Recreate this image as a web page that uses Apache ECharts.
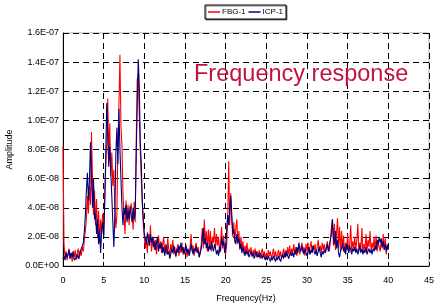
<!DOCTYPE html>
<html>
<head>
    <meta charset="UTF-8">
    <title>Frequency response</title>
    <script src="https://cdn.jsdelivr.net/npm/echarts@6/dist/echarts.min.js"></script>
    <style>
        body { margin: 0; background: #fff; }
        #main { width: 444px; height: 304px; }
    </style>
</head>
<body>
    <div id="main"></div>
    <script>
        // frequency step 0.125 Hz, 0..40 Hz ; amplitudes in units of 1E-08
        var step = 0.125;
        var seriesNames = ['FBG-1', 'ICP-1'];
        var xTicks = [0, 5, 10, 15, 20, 25, 30, 35, 40, 45];
        var yTickLabels = ['0.0E+00', '2.0E-08', '4.0E-08', '6.0E-08', '8.0E-08',
                           '1.0E-07', '1.2E-07', '1.4E-07', '1.6E-07'];

        var fbg = [
            8.2, 1.5, 0.6, 1.0, 0.4, 0.8, 1.2, 0.5,
            0.9, 0.3, 1.0, 0.6, 1.1, 0.4, 0.9, 1.2,
            0.5, 1.1, 0.7, 1.3, 1.0, 1.8, 2.4, 3.2,
            4.8, 3.6, 5.5, 4.2, 9.2, 6.0, 3.5, 5.2,
            2.8, 4.6, 2.0, 3.8, 1.6, 3.2, 2.2, 3.6,
            2.1, 4.5, 6.8, 8.2, 11.5, 7.5, 9.8, 6.2,
            7.8, 5.5, 6.6, 4.0, 2.6, 3.5, 8.5, 11.0,
            14.5, 9.6, 8.2, 5.0, 3.5, 2.2, 4.5, 3.2,
            4.2, 2.8, 3.8, 4.3, 3.6, 2.5, 4.4, 3.0,
            8.5, 12.8, 13.2, 10.5, 8.0, 6.0, 4.2, 2.8,
            2.0, 1.2, 1.8, 0.9, 2.2, 1.4, 2.8, 1.0,
            1.6, 2.0, 1.1, 1.8, 0.8, 1.5, 2.1, 1.2,
            1.7, 0.9, 1.4, 2.0, 1.0, 1.5, 0.8, 1.9,
            1.2, 0.7, 1.5, 1.0, 1.8, 0.8, 1.3, 0.6,
            1.1, 1.5, 0.7, 1.2, 0.9, 1.6, 0.8, 1.3,
            0.9, 1.4, 0.6, 1.1, 0.8, 1.3, 2.2, 1.0,
            1.4, 0.7, 1.2, 1.6, 0.9, 1.3, 0.6, 1.0,
            1.5, 2.6, 1.2, 3.2, 1.5, 2.4, 1.0, 2.5,
            1.3, 2.4, 1.0, 2.0, 1.6, 2.6, 1.2, 2.2,
            1.4, 2.0, 0.9, 1.6, 2.7, 1.2, 2.1, 1.0,
            0.8, 1.5, 3.2, 7.2, 2.8, 5.0, 3.2, 2.0,
            3.0, 1.6, 2.6, 3.2, 1.5, 2.4, 1.1, 2.0,
            1.2, 1.7, 0.8, 1.4, 1.0, 1.6, 0.7, 1.2,
            0.9, 1.3, 0.6, 1.1, 0.8, 1.2, 0.6, 1.0,
            0.7, 1.1, 0.5, 0.9, 1.2, 0.6, 1.0, 0.5,
            0.9, 0.6, 1.1, 0.7, 1.0, 0.5, 0.8, 1.2,
            0.6, 1.0, 0.5, 0.8, 1.1, 0.6, 1.0, 0.5,
            0.8, 1.2, 0.6, 1.1, 0.7, 1.3, 0.8, 1.4,
            0.7, 1.2, 0.9, 1.5, 0.8, 1.3, 0.7, 1.1,
            1.4, 0.8, 1.2, 1.6, 0.9, 1.3, 0.7, 1.5,
            1.0, 1.6, 0.8, 1.3, 1.7, 0.9, 1.4, 1.1,
            1.5, 0.8, 1.3, 1.8, 1.0, 1.4, 0.9, 1.6,
            1.1, 1.5, 0.9, 1.3, 1.7, 1.2, 1.0, 1.8,
            2.6, 3.2, 1.4, 2.9, 1.1, 2.2, 3.3, 1.2,
            2.7, 1.0, 2.4, 1.2, 2.1, 0.9, 1.6, 1.1,
            2.2, 0.9, 1.5, 2.8, 1.0, 1.7, 1.2, 2.0,
            1.1, 1.8, 2.9, 1.0, 1.6, 1.2, 2.6, 0.9,
            1.5, 1.1, 2.2, 1.0, 1.8, 1.3, 2.4, 1.0,
            1.6, 1.2, 2.0, 1.1, 2.1, 1.0, 1.7, 1.3,
            1.0, 1.8, 1.2, 2.2, 1.1, 1.9, 0.8, 1.5,
            1.2
        ];

        var icp = [
            0.5, 0.7, 0.4, 0.9, 0.6, 0.8, 1.1, 0.5,
            0.9, 0.6, 1.0, 0.4, 0.3, 0.6, 0.8, 0.5,
            0.7, 1.0, 0.9, 1.4, 1.6, 2.4, 3.5, 5.2,
            6.4, 4.5, 5.8, 8.5, 6.2, 4.0, 6.0, 3.2,
            3.6, 2.2, 3.2, 1.5, 2.5, 0.9, 2.4, 3.0,
            2.0, 4.2, 7.5, 11.2, 9.0, 6.8, 8.2, 6.5,
            4.8, 3.0, 1.3, 3.5, 7.8, 9.5, 7.0, 10.8,
            8.0, 6.0, 4.0, 2.8, 4.0, 3.5, 4.2, 3.0,
            3.8, 3.2, 4.1, 3.5, 3.0, 4.0, 3.2, 3.6,
            7.5, 11.0, 14.2, 12.5, 8.5, 7.0, 4.5, 3.2,
            2.2, 1.9, 1.5, 2.3, 1.8, 1.4, 2.2, 1.6,
            2.0, 1.3, 1.7, 1.1, 1.6, 2.0, 1.0, 1.5,
            1.2, 1.6, 0.9, 1.3, 0.7, 1.1, 1.4, 0.8,
            1.0, 0.5, 0.8, 1.2, 0.9, 1.4, 1.0, 0.7,
            1.2, 0.9, 1.4, 1.1, 1.6, 1.0, 1.3, 0.8,
            1.1, 1.4, 0.9, 1.2, 0.7, 1.0, 1.5, 1.1,
            0.8, 1.2, 1.0, 1.4, 0.9, 1.1, 0.6, 0.9,
            1.2, 1.8, 2.6, 1.5, 1.9, 1.2, 1.6, 1.0,
            1.4, 1.1, 1.7, 1.3, 1.0, 1.5, 1.2, 0.8,
            1.1, 0.7, 1.3, 1.0, 2.0, 1.4, 1.7, 0.9,
            1.2, 2.6, 3.5, 2.8, 4.0, 4.8, 3.5, 2.2,
            2.5, 1.8, 1.5, 2.2, 1.6, 1.9, 1.2, 1.5,
            0.9, 1.3, 1.0, 0.7, 1.1, 0.8, 1.0, 0.6,
            0.8, 1.0, 0.7, 0.9, 0.5, 0.8, 1.0, 0.6,
            0.8, 0.6, 0.9, 0.7, 0.5, 0.8, 0.6, 0.4,
            0.6, 0.4, 0.7, 0.5, 0.3, 0.6, 0.4, 0.7,
            0.5, 0.3, 0.6, 0.4, 0.7, 0.5, 0.3, 0.6,
            0.8, 0.5, 0.9, 0.6, 1.0, 0.7, 0.5, 0.8,
            1.0, 0.7, 0.9, 0.6, 1.1, 0.8, 1.3, 0.9,
            1.6, 1.2, 1.0, 1.4, 1.1, 0.8, 1.2, 0.9,
            0.7, 1.0, 1.3, 0.8, 1.1, 0.9, 1.4, 1.0,
            0.8, 1.1, 0.7, 1.0, 1.3, 0.9, 0.6, 1.0,
            0.8, 1.1, 0.9, 1.2, 1.5, 1.0, 1.4, 1.8,
            2.2, 3.2, 2.0, 1.5, 2.4, 1.2, 1.8, 0.9,
            0.6, 1.0, 1.2, 1.6, 1.0, 1.3, 0.8, 1.5,
            1.2, 0.9, 1.4, 1.1, 0.8, 1.2, 1.0, 1.3,
            0.9, 1.2, 0.8, 1.1, 1.4, 0.9, 1.2, 0.8,
            1.1, 0.9, 1.3, 0.8, 1.0, 1.2, 0.9, 1.1,
            0.8, 1.2, 1.0, 1.4, 1.1, 1.8, 1.5, 2.0,
            1.6, 1.9, 1.3, 1.7, 1.1, 1.5, 1.0, 1.4,
            1.1
        ];

        function pairs(arr) {
            return arr.map(function (v, i) { return [i * step, v]; });
        }

        var gridDash = { color: '#000', type: [6, 4], width: 1 };
        var font = 'Liberation Sans, Arial, sans-serif';

        var app = echarts.init(document.getElementById('main'));
        var option = {
            animation: false,
            textStyle: { fontFamily: font },
            title: {
                text: 'Frequency response',
                left: 189, top: 58,
                textStyle: { color: '#c0143c', fontSize: 23.5, fontWeight: 'normal', fontFamily: font }
            },
            legend: {
                data: seriesNames,
                left: 205, top: 5,
                padding: [3, 3],
                itemGap: 3,
                itemWidth: 12, itemHeight: 1.5,
                icon: 'rect',
                borderColor: '#000', borderWidth: 1,
                backgroundColor: '#fff',
                shadowColor: 'rgba(0,0,0,0.5)', shadowOffsetX: 1, shadowOffsetY: 1,
                textStyle: { fontSize: 8, color: '#000', padding: [0, 0, 0, -3] }
            },
            grid: {
                left: 63, right: 15, top: 33, bottom: 38,
                outerBoundsMode: 'none',
                show: true, borderColor: '#aaa', borderWidth: 1
            },
            xAxis: {
                type: 'value', min: 0, max: 45, interval: 5,
                name: 'Frequency(Hz)', nameLocation: 'middle', nameGap: 28,
                nameTextStyle: { fontSize: 9, color: '#000' },
                axisLine: { lineStyle: { color: '#000', width: 1 } },
                axisTick: { inside: true, length: 4, lineStyle: { color: '#000' } },
                axisLabel: { fontSize: 9, color: '#000', margin: 10 },
                splitLine: { show: true, lineStyle: gridDash }
            },
            yAxis: {
                type: 'value', min: 0, max: 16, interval: 2,
                name: 'Amplitude', nameLocation: 'middle', nameGap: 43, nameRotate: 90,
                nameTextStyle: { fontSize: 9, color: '#000' },
                axisLine: { show: true, lineStyle: { color: '#000', width: 1 } },
                axisTick: { show: true, inside: true, length: 4, lineStyle: { color: '#000' } },
                axisLabel: {
                    fontSize: 9, color: '#000', margin: 4,
                    formatter: function (v) { return yTickLabels[Math.round(v / 2)]; }
                },
                splitLine: { show: true, lineStyle: gridDash }
            },
            series: [
                {
                    name: seriesNames[0], type: 'line', data: pairs(fbg),
                    showSymbol: false, symbol: 'none',
                    lineStyle: { color: '#ff0000', width: 1.1 },
                    itemStyle: { color: '#ff0000' }
                },
                {
                    name: seriesNames[1], type: 'line', data: pairs(icp),
                    showSymbol: false, symbol: 'none',
                    lineStyle: { color: '#00007f', width: 1.1 },
                    itemStyle: { color: '#00007f' }
                }
            ]
        };
        app.setOption(option);
        window.addEventListener('resize', function () { app.resize(); });
    </script>
</body>
</html>
